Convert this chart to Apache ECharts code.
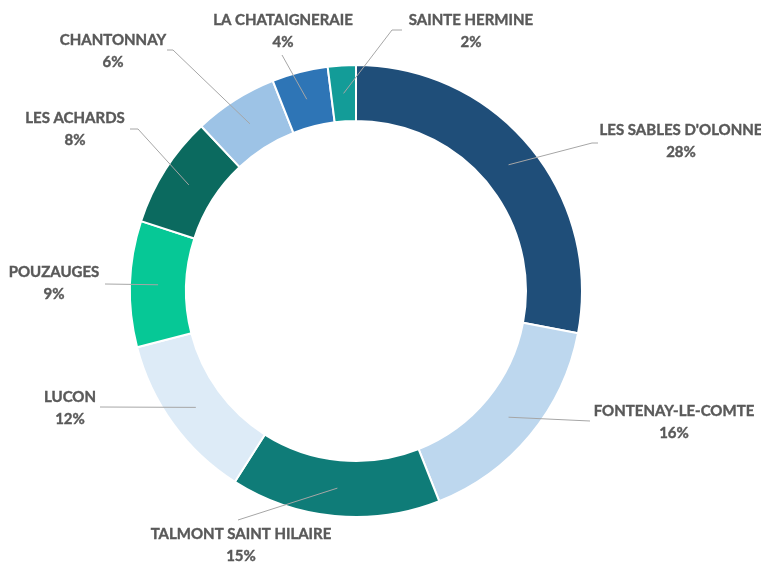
<!DOCTYPE html>
<html>
<head>
<meta charset="utf-8">
<script src="https://cdn.jsdelivr.net/npm/echarts@6/dist/echarts.min.js"></script>
<style>
  html, body { margin: 0; padding: 0; background: #fff; }
  #chart { width: 761px; height: 563px; }
</style>
</head>
<body>
<div id="chart"></div>
<script>
let villes = ["LES SABLES D'OLONNE", "FONTENAY-LE-COMTE", "TALMONT SAINT HILAIRE", "LUCON", "POUZAUGES", "LES ACHARDS", "CHANTONNAY", "LA CHATAIGNERAIE", "SAINTE HERMINE"];
let parts = [28, 16, 15, 12, 9, 8, 6, 4, 2];
let couleurs = ["#1F4E79", "#BDD7EE", "#0F7C78", "#DDEBF7", "#06C896", "#0B6A5F", "#9DC3E6", "#2E75B6", "#139C98"];

// placement des étiquettes : centre du texte, coude du trait, bout du trait
let posTexte = [[681, 141], [674, 422], [241, 545], [70, 408], [54, 283], [75, 129], [113, 51], [283, 31], [471, 31]];
let coudes = [[592, 143], [590, 421], [238, 520], [100, 407], [105, 284], [138, 129], [173, 50], [282, 55], [392, 30]];
let bouts = [[598, 143], [590, 421], [238, 520], [100, 407], [105, 284], [130, 129], [167, 50], [282, 55], [402, 30]];

let donnees = [];
for (let i = 0; i < villes.length; i++) {
    donnees.push({ name: villes[i], value: parts[i], itemStyle: { color: couleurs[i] } });
}

let myChart = echarts.init(document.getElementById("chart"));
let option = {
    animation: false,
    series: [{
        // anneau visible
        type: 'pie',
        center: [356, 291],
        radius: [170, 226],
        startAngle: 90,
        clockwise: true,
        silent: true,
        itemStyle: { borderColor: '#fff', borderWidth: 2 },
        label: { show: false },
        labelLine: { show: false },
        data: donnees,
        z: 1
    }, {
        // pie invisible : les traits partent du milieu de l'anneau
        type: 'pie',
        center: [356, 291],
        radius: [0, 198],
        startAngle: 90,
        clockwise: true,
        silent: true,
        avoidLabelOverlap: false,
        itemStyle: { color: 'rgba(0,0,0,0)', borderWidth: 0 },
        label: {
            show: true,
            formatter: '{b}\n{d}%',
            color: '#595959',
            fontSize: 15,
            fontWeight: 'bold',
            fontFamily: 'Lato, sans-serif',
            lineHeight: 22,
            textBorderColor: '#595959',
            textBorderWidth: 0.4
        },
        labelLine: {
            show: true,
            length: 40,
            length2: 10,
            lineStyle: { color: '#A6A6A6', width: 1 }
        },
        labelLayout: function (params) {
            let i = params.dataIndex;
            let depart = params.labelLinePoints ? params.labelLinePoints[0] : coudes[i];
            return {
                x: posTexte[i][0],
                y: posTexte[i][1],
                align: 'center',
                verticalAlign: 'middle',
                labelLinePoints: [depart, coudes[i], bouts[i]]
            };
        },
        data: villes.map(function (v, i) { return { name: v, value: parts[i] }; }),
        z: 2
    }]
};
myChart.setOption(option);
</script>
</body>
</html>
